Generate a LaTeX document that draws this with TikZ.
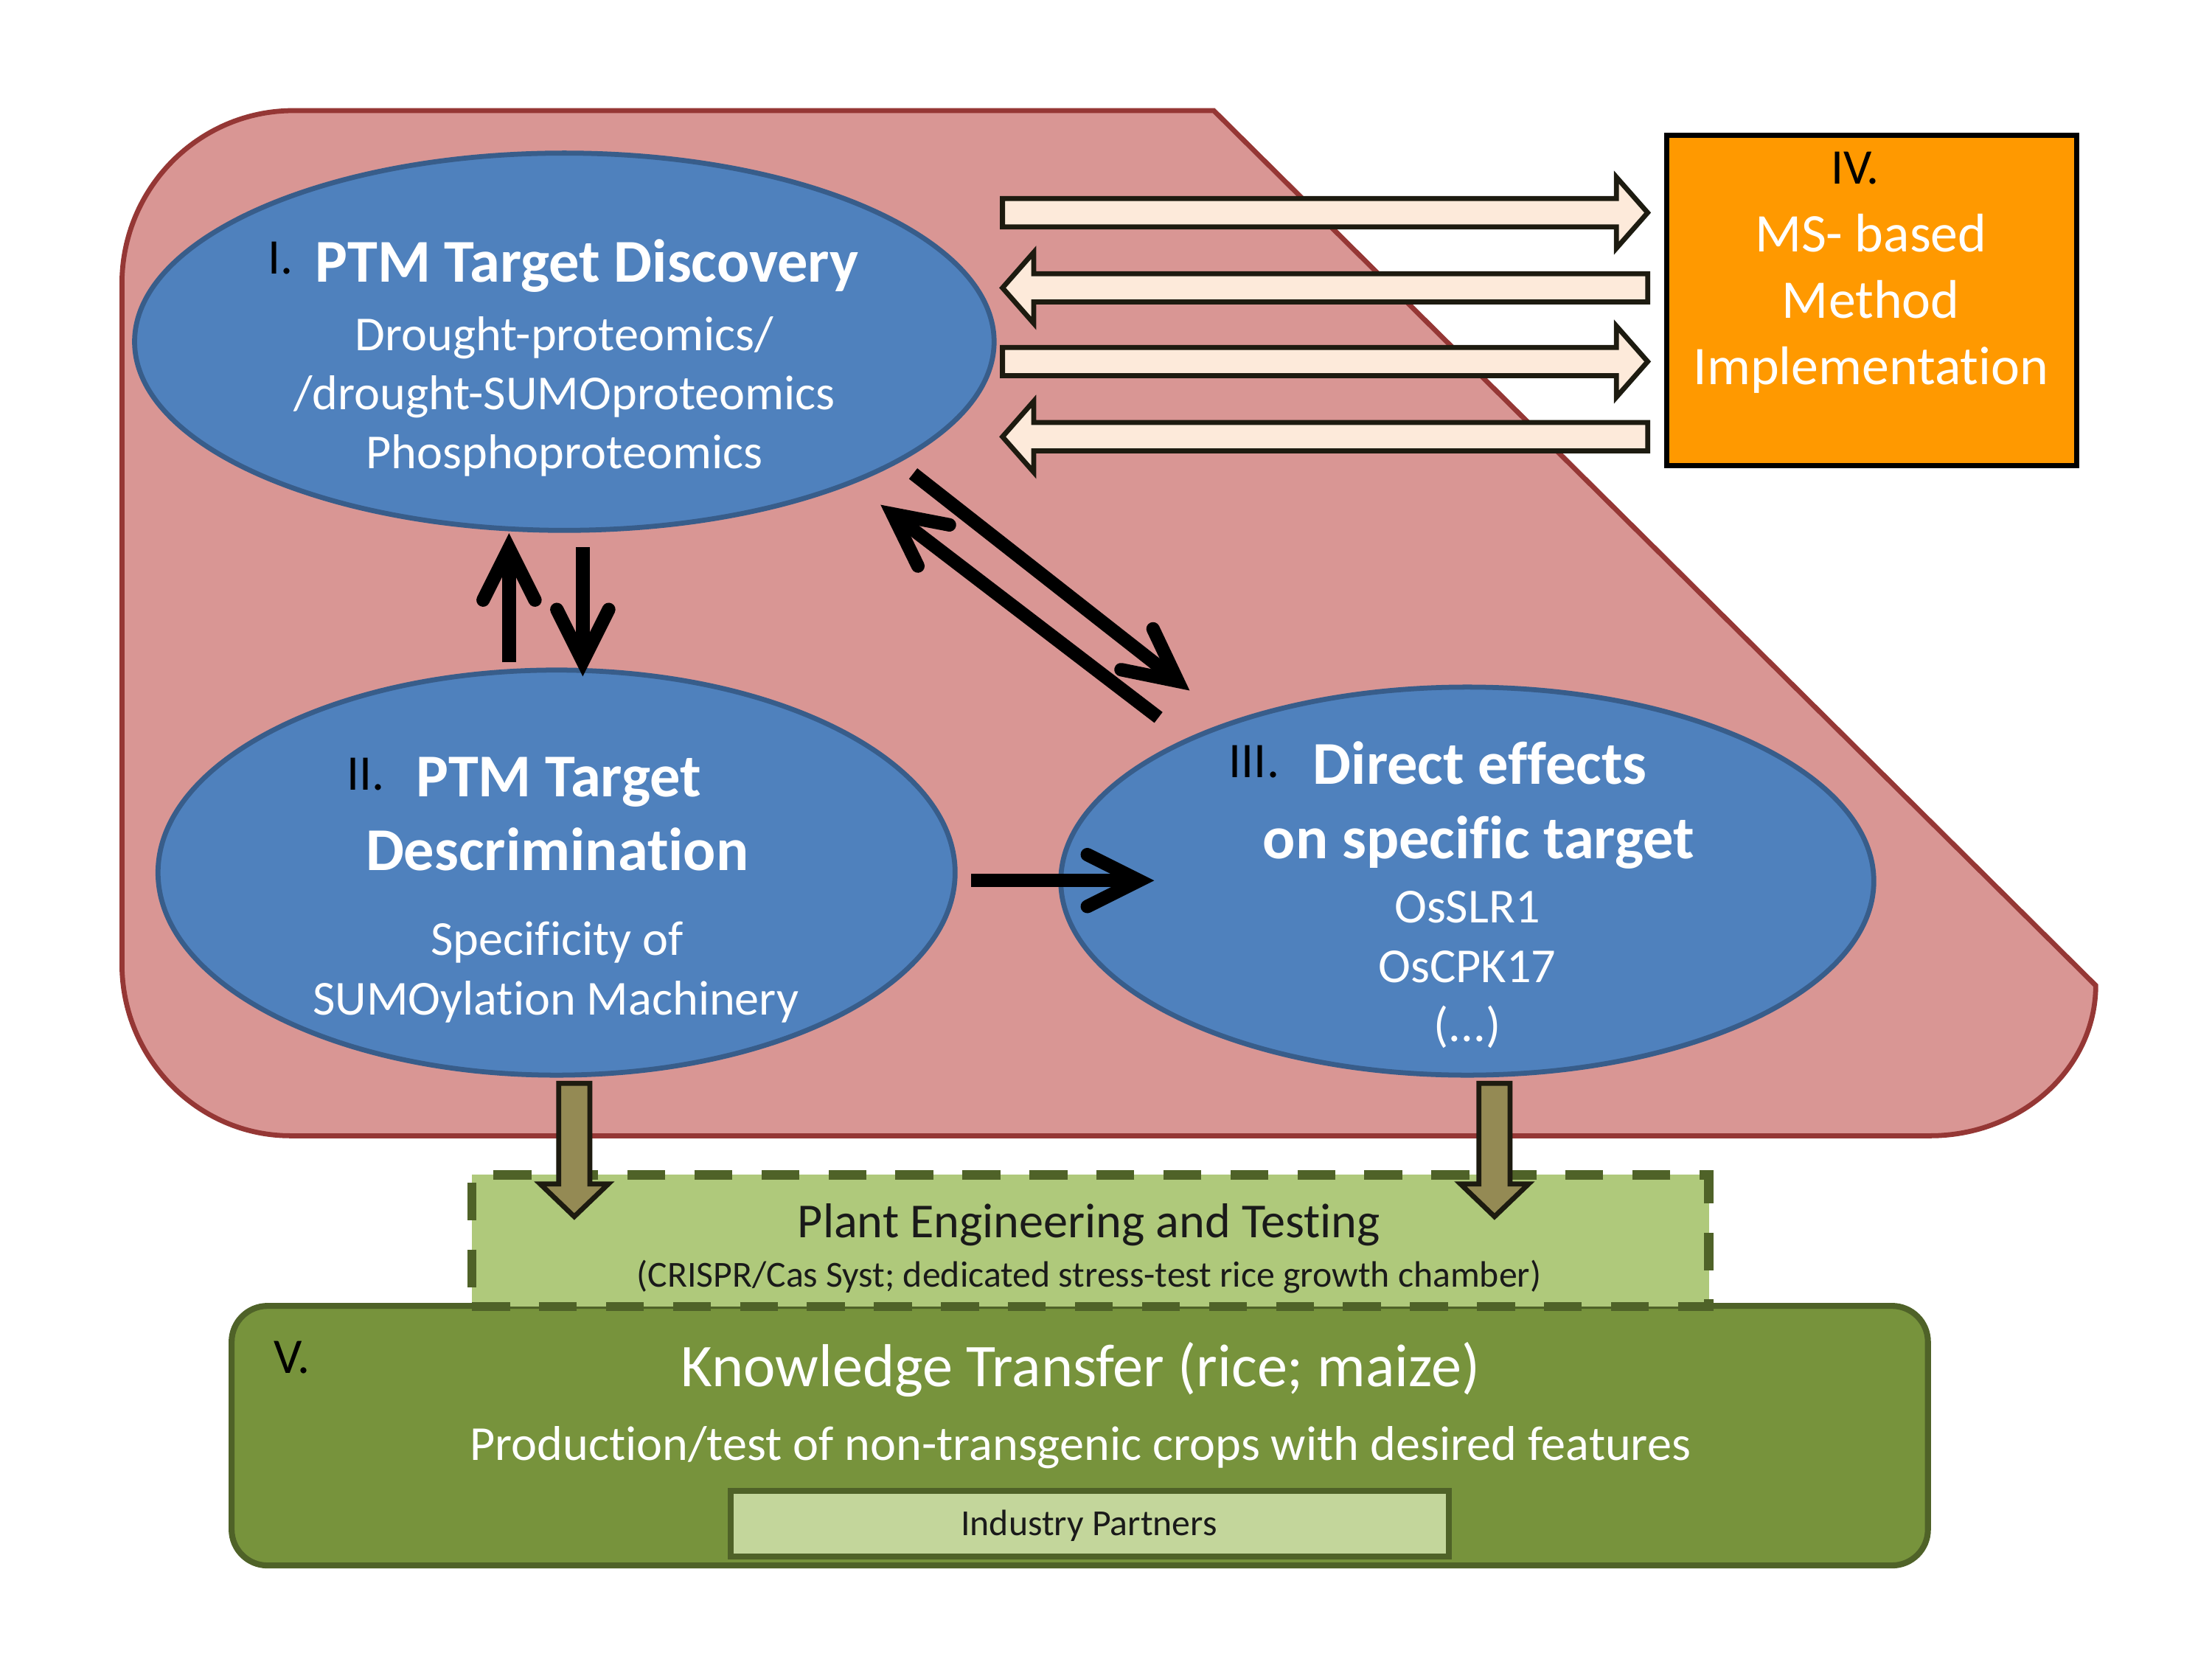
\documentclass[tikz,border=0pt]{standalone}
\usepackage{fontspec}
\setmainfont{Carlito}[Ligatures=NoCommon]
\usetikzlibrary{arrows.meta,shapes.geometric}
\definecolor{pinkfill}{HTML}{D99694}
\definecolor{pinkline}{HTML}{953735}
\definecolor{bluefill}{HTML}{4F81BD}
\definecolor{blueline}{HTML}{385D8A}
\definecolor{orangefill}{HTML}{FF9900}
\definecolor{peach}{HTML}{FDEADA}
\definecolor{darkline}{HTML}{1D1B10}
\definecolor{olivefill}{HTML}{948A54}
\definecolor{lightgreen}{HTML}{AFC97B}
\definecolor{greenline}{HTML}{4F6228}
\definecolor{greenfill}{HTML}{77933C}
\definecolor{palegreen}{HTML}{C3D69B}
\definecolor{darktext}{HTML}{1A1A1A}
\newcommand{\setfs}[1]{\fontsize{#1}{#1}\selectfont}
\begin{document}
\begin{tikzpicture}[x=0.025cm, y=-0.025cm,
  ell/.style={ellipse, draw=blueline, fill=bluefill, line width=2.5pt, inner sep=0pt},
  txt/.style={inner sep=0pt, text depth=0pt},
  wt/.style={txt, text=white},
  bk/.style={txt, text=black},
  dk/.style={txt, text=darktext},
  fnum/.style={font=\setfs{25pt}, text height=16pt},
  fbold/.style={font=\setfs{30.5pt}\bfseries, text height=19.5pt},
  freg/.style={font=\setfs{24.5pt}, text height=15.7pt},
  fbox/.style={font=\setfs{27.3pt}, text height=17.5pt},
  fbig/.style={font=\setfs{30.4pt}, text height=19.5pt},
  fsmall/.style={font=\setfs{18.4pt}, text height=11.8pt},
  barrow/.style={draw=black, line width=6.75pt, -{Straight Barb[length=26pt,width=26pt,line cap=round,line join=miter]}},
  blockarr/.style={draw=darkline, fill=peach, line width=2.5pt, line join=miter},
  olivearr/.style={draw=darkline, fill=olivefill, line width=2.5pt, line join=miter},
]
\useasboundingbox (0,0) rectangle (1560,1170);

% background shape
\draw[fill=pinkfill, draw=pinkline, line width=2.5pt]
  (86,200) .. controls (86,133) and (140,78) .. (207,78) -- (856,78) -- (1478,695)
  .. controls (1478,753) and (1426,801) .. (1361,801) -- (205,801)
  .. controls (139,801) and (86,746) .. (86,680) -- cycle;

% ellipses
\node[ell, minimum width=15.15cm, minimum height=6.65cm] (e1) at (398,241) {};
\node[ell, minimum width=14.05cm, minimum height=7.14cm] (e2) at (392.5,615.4) {};
\node[ell, minimum width=14.33cm, minimum height=6.84cm] (e3) at (1034.8,621.4) {};

% ellipse I text
\node[bk, fnum] (n1) at (198,182) {I.};
\node[wt, fbold] (t1) at (414,185) {PTM Target Discovery};
\node[wt, freg] (t1a) at (398,236) {Drought-proteomics/};
\node[wt, freg] (t1b) at (398,277.6) {/drought-SUMOproteomics};
\node[wt, freg] (t1c) at (398,319.4) {Phosphoproteomics};

% ellipse II text
\node[bk, fnum] (n2) at (257.7,546) {II.};
\node[wt, fbold] (t2) at (394,548) {PTM Target};
\node[wt, fbold] (t2a) at (393,600) {Descrimination};
\node[wt, freg] (t2b) at (393,662.7) {Specificity of};
\node[wt, freg] (t2c) at (392,704.5) {SUMOylation Machinery};

% ellipse III text
\node[bk, fnum] (n3) at (884.5,537.3) {III.};
\node[wt, fbold] (t3) at (1043.8,539.3) {Direct effects};
\node[wt, fbold] (t3a) at (1042.8,592) {on specific target};
\node[wt, freg] (t3b) at (1034.8,639.8) {OsSLR1};
\node[wt, freg] (t3c) at (1034.8,681.6) {OsCPK17};
\node[wt, freg] (t3d) at (1034.8,723.4) {(...)};

% block arrows to/from box IV
\draw[blockarr] (707,140) -- (1140,140) -- (1140,125) -- (1162,150) -- (1140,175) -- (1140,160) -- (707,160) -- cycle;
\draw[blockarr] (1162,193) -- (729,193) -- (729,178) -- (707,203) -- (729,228) -- (729,213) -- (1162,213) -- cycle;
\draw[blockarr] (707,245) -- (1140,245) -- (1140,230) -- (1162,255) -- (1140,280) -- (1140,265) -- (707,265) -- cycle;
\draw[blockarr] (1162,298) -- (729,298) -- (729,283) -- (707,308) -- (729,333) -- (729,318) -- (1162,318) -- cycle;

% box IV
\node[draw=black, fill=orangefill, line width=2.5pt, minimum width=7.225cm, minimum height=5.825cm, inner sep=0pt] (b4) at (1320,212) {};
\node[bk, fnum] (n4) at (1308.4,118.4) {IV.};
\node[wt, fbox] (t4a) at (1319.4,165.2) {MS- based};
\node[wt, fbox] (t4b) at (1319.4,212) {Method};
\node[wt, fbox] (t4c) at (1319.4,258.7) {Implementation};

% black arrows
\coordinate (ua) at (359,467); \coordinate (ub) at (359,376);
\coordinate (da) at (411,386); \coordinate (db) at (411,477);
\coordinate (pa) at (644,334); \coordinate (pb) at (839,487);
\coordinate (qa) at (817,506); \coordinate (qb) at (621,356);
\coordinate (ha) at (685,621); \coordinate (hb) at (814,621);
\draw[barrow] (ua) -- (ub);
\draw[barrow] (da) -- (db);
\draw[barrow] (pa) -- (pb);
\draw[barrow] (qa) -- (qb);
\draw[barrow] (ha) -- (hb);

% box V
\node[draw=greenline, fill=greenfill, line width=3pt, rounded corners=18pt, minimum width=29.9cm, minimum height=4.575cm, inner sep=0pt] (b5) at (761.5,1012.5) {};
\node[bk, fnum] (n5) at (206,957) {V.};
\node[wt, fbig] (t5) at (762,964) {Knowledge Transfer (rice; maize)};
\node[wt, freg] (t5a) at (762,1019) {Production/test of non-transgenic crops with desired features};
\node[draw=greenline, fill=palegreen, line width=3pt, minimum width=12.65cm, minimum height=1.15cm, inner sep=0pt] (ip) at (768.5,1074.5) {};
\node[dk, fsmall] (tip) at (768,1074.6) {Industry Partners};

% plant engineering box
\node[draw=greenline, fill=lightgreen, line width=4.5pt, dash pattern=on 19pt off 14.6pt, minimum width=21.8cm, minimum height=2.32cm, inner sep=0pt] (pe) at (769,875) {};
\node[dk, freg] (tpe) at (768,861.7) {Plant Engineering and Testing};
\node[dk, fsmall] (tpe2) at (768,899.5) {(CRISPR/Cas Syst; dedicated stress-test rice growth chamber)};

% olive arrows
\draw[olivearr] (394,764) -- (416,764) -- (416,835) -- (429,835) -- (405,858) -- (381,835) -- (394,835) -- cycle;
\draw[olivearr] (1043,764) -- (1065,764) -- (1065,835) -- (1078,835) -- (1054,858) -- (1030,835) -- (1043,835) -- cycle;
\end{tikzpicture}
\end{document}
